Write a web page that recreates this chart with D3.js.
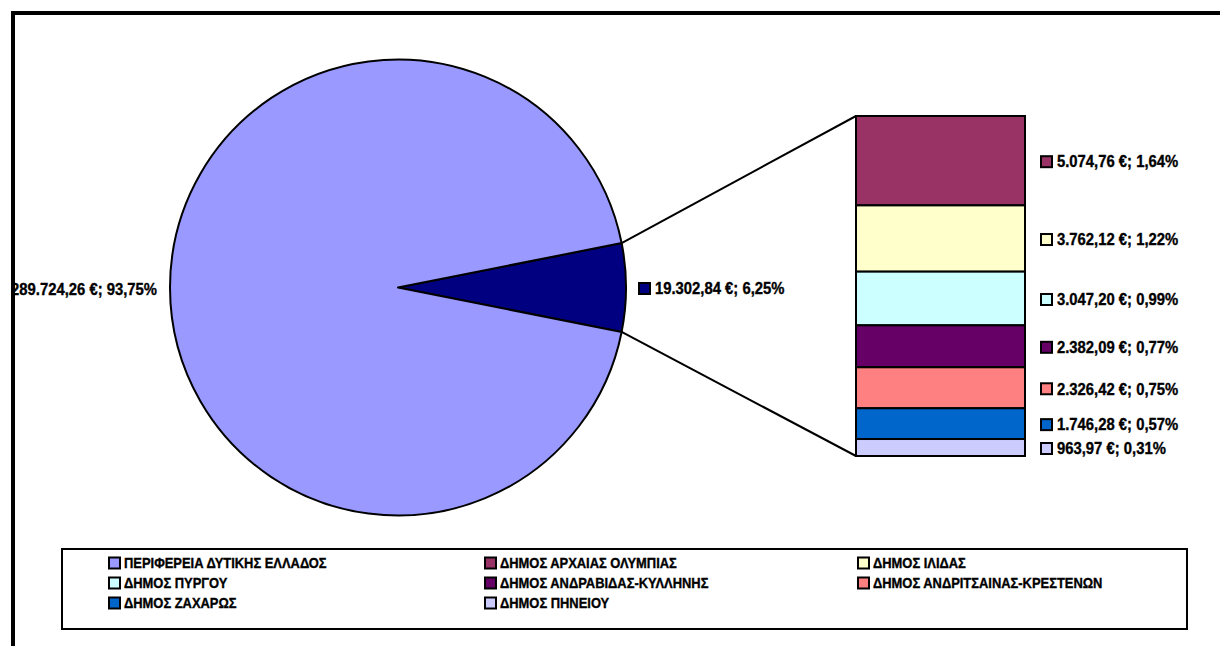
<!DOCTYPE html>
<html>
<head>
<meta charset="utf-8">
<script src="https://cdn.jsdelivr.net/npm/d3@7"></script>
<style>
  html, body { margin: 0; padding: 0; background: #fff; }
  svg { display: block; }
  text { font-family: "Liberation Sans", Arial, sans-serif; font-weight: bold; fill: #000; stroke: #000; stroke-width: 0.35px; }
</style>
</head>
<body>
<svg id="chart" width="1220" height="646"></svg>
<script>
// ---- data ----
const pieCategories = ["ΠΕΡΙΦΕΡΕΙΑ ΔΥΤΙΚΗΣ ΕΛΛΑΔΟΣ", "Λοιποί Δήμοι"];
const pieValues = [289724.26, 19302.84];
const pieLabels = ["289.724,26 €; 93,75%", "19.302,84 €; 6,25%"];

const barCategories = ["ΔΗΜΟΣ ΑΡΧΑΙΑΣ ΟΛΥΜΠΙΑΣ", "ΔΗΜΟΣ ΙΛΙΔΑΣ", "ΔΗΜΟΣ ΠΥΡΓΟΥ",
  "ΔΗΜΟΣ ΑΝΔΡΑΒΙΔΑΣ-ΚΥΛΛΗΝΗΣ", "ΔΗΜΟΣ ΑΝΔΡΙΤΣΑΙΝΑΣ-ΚΡΕΣΤΕΝΩΝ", "ΔΗΜΟΣ ΖΑΧΑΡΩΣ", "ΔΗΜΟΣ ΠΗΝΕΙΟΥ"];
const barValues = [5074.76, 3762.12, 3047.20, 2382.09, 2326.42, 1746.28, 963.97];
const barLabels = ["5.074,76 €; 1,64%", "3.762,12 €; 1,22%", "3.047,20 €; 0,99%",
  "2.382,09 €; 0,77%", "2.326,42 €; 0,75%", "1.746,28 €; 0,57%", "963,97 €; 0,31%"];

const legendItems = ["ΠΕΡΙΦΕΡΕΙΑ ΔΥΤΙΚΗΣ ΕΛΛΑΔΟΣ", "ΔΗΜΟΣ ΑΡΧΑΙΑΣ ΟΛΥΜΠΙΑΣ", "ΔΗΜΟΣ ΙΛΙΔΑΣ",
  "ΔΗΜΟΣ ΠΥΡΓΟΥ", "ΔΗΜΟΣ ΑΝΔΡΑΒΙΔΑΣ-ΚΥΛΛΗΝΗΣ", "ΔΗΜΟΣ ΑΝΔΡΙΤΣΑΙΝΑΣ-ΚΡΕΣΤΕΝΩΝ",
  "ΔΗΜΟΣ ΖΑΧΑΡΩΣ", "ΔΗΜΟΣ ΠΗΝΕΙΟΥ"];

const colors = {
  "ΠΕΡΙΦΕΡΕΙΑ ΔΥΤΙΚΗΣ ΕΛΛΑΔΟΣ": "#9999FF",
  "Λοιποί Δήμοι": "#000080",
  "ΔΗΜΟΣ ΑΡΧΑΙΑΣ ΟΛΥΜΠΙΑΣ": "#993366",
  "ΔΗΜΟΣ ΙΛΙΔΑΣ": "#FFFFCC",
  "ΔΗΜΟΣ ΠΥΡΓΟΥ": "#CCFFFF",
  "ΔΗΜΟΣ ΑΝΔΡΑΒΙΔΑΣ-ΚΥΛΛΗΝΗΣ": "#660066",
  "ΔΗΜΟΣ ΑΝΔΡΙΤΣΑΙΝΑΣ-ΚΡΕΣΤΕΝΩΝ": "#FF8080",
  "ΔΗΜΟΣ ΖΑΧΑΡΩΣ": "#0066CC",
  "ΔΗΜΟΣ ΠΗΝΕΙΟΥ": "#CCCCFF"
};

// ---- layout ----
const svg = d3.select("#chart");
const cx = 398, cy = 287.5, R = 228;
const barX0 = 856, barX1 = 1025, barTop = 116, barBottom = 456;
const SX = 0.91;

function label(g, x, y, txt, size, anchor) {
  g.append("text")
    .attr("transform", `translate(${x},${y}) scale(${SX},1)`)
    .attr("text-anchor", anchor || "start")
    .attr("dominant-baseline", "central")
    .style("font-size", size + "px")
    .text(txt);
}

// ---- pie ----
const total = d3.sum(pieValues);
const otherAngle = 2 * Math.PI * pieValues[1] / total;
const pieData = [
  { name: pieCategories[1], value: pieValues[1], label: pieLabels[1] },
  { name: pieCategories[0], value: pieValues[0], label: pieLabels[0] }
];
const pie = d3.pie().sort(null).value(d => d.value)
  .startAngle(Math.PI / 2 - otherAngle / 2)
  .endAngle(Math.PI / 2 - otherAngle / 2 + 2 * Math.PI);
const arcs = pie(pieData);
const arc = d3.arc().innerRadius(0).outerRadius(R);

const pieG = svg.append("g").attr("transform", `translate(${cx},${cy})`);
pieG.selectAll("path").data(arcs).join("path")
  .attr("d", arc)
  .attr("fill", d => colors[d.data.name])
  .attr("stroke", "#000").attr("stroke-width", 2).attr("stroke-linejoin", "round");

// ---- bar ----
const y = d3.scaleLinear().domain([0, d3.sum(barValues)]).range([barTop, barBottom]);
const cum = d3.cumsum(barValues);
const segs = barValues.map((v, i) => ({
  name: barCategories[i], value: v, label: barLabels[i],
  y0: y(i === 0 ? 0 : cum[i - 1]), y1: y(cum[i])
}));

// connector lines
const a0 = arcs[0].startAngle, a1 = arcs[0].endAngle;
const p0 = [cx + R * Math.sin(a0), cy - R * Math.cos(a0)];
const p1 = [cx + R * Math.sin(a1), cy - R * Math.cos(a1)];
svg.append("line").attr("x1", p0[0]).attr("y1", p0[1]).attr("x2", barX0).attr("y2", y(0))
  .attr("stroke", "#000").attr("stroke-width", 2);
svg.append("line").attr("x1", p1[0]).attr("y1", p1[1]).attr("x2", barX0).attr("y2", y(d3.sum(barValues)))
  .attr("stroke", "#000").attr("stroke-width", 2);

svg.append("g").selectAll("rect").data(segs).join("rect")
  .attr("x", barX0).attr("width", barX1 - barX0)
  .attr("y", d => d.y0).attr("height", d => d.y1 - d.y0)
  .attr("fill", d => colors[d.name])
  .attr("stroke", "#000").attr("stroke-width", 2);

// ---- labels ----
const lblG = svg.append("g");
// main slice label (left)
label(lblG, 157, 289, pieLabels[0], 16.3, "end");
// navy slice label
const mid = (a0 + a1) / 2;
const ly = cy - R * Math.cos(mid) + 1;
lblG.append("rect").attr("x", 639).attr("y", ly - 5.5).attr("width", 11).attr("height", 11)
  .attr("fill", colors[pieCategories[1]]).attr("stroke", "#000").attr("stroke-width", 2);
label(lblG, 655, ly, pieLabels[1], 16.3);

segs.forEach((d, i) => {
  let yy = (d.y0 + d.y1) / 2 + 1;
  lblG.append("rect").attr("x", 1041).attr("y", yy - 5.5).attr("width", 11).attr("height", 11)
    .attr("fill", colors[d.name]).attr("stroke", "#000").attr("stroke-width", 2);
  label(lblG, 1057, yy, d.label, 16.3);
});

// ---- legend ----
const lg = svg.append("g");
lg.append("rect").attr("x", 62).attr("y", 549).attr("width", 1125).attr("height", 80)
  .attr("fill", "#fff").attr("stroke", "#000").attr("stroke-width", 2);
const colX = [108, 484, 857];
const rowY = [563, 583, 603];
legendItems.forEach((name, i) => {
  const c = i % 3, r = Math.floor(i / 3);
  lg.append("rect").attr("x", colX[c] + 1).attr("y", rowY[r] - 5.5).attr("width", 11).attr("height", 11)
    .attr("fill", colors[name]).attr("stroke", "#000").attr("stroke-width", 2);
  label(lg, colX[c] + 16, rowY[r], name, 14.2);
});

// ---- outer frame ----
svg.append("rect").attr("x", 13).attr("y", 13).attr("width", 1300).attr("height", 700)
  .attr("fill", "none").attr("stroke", "#000").attr("stroke-width", 4);
</script>
</body>
</html>
